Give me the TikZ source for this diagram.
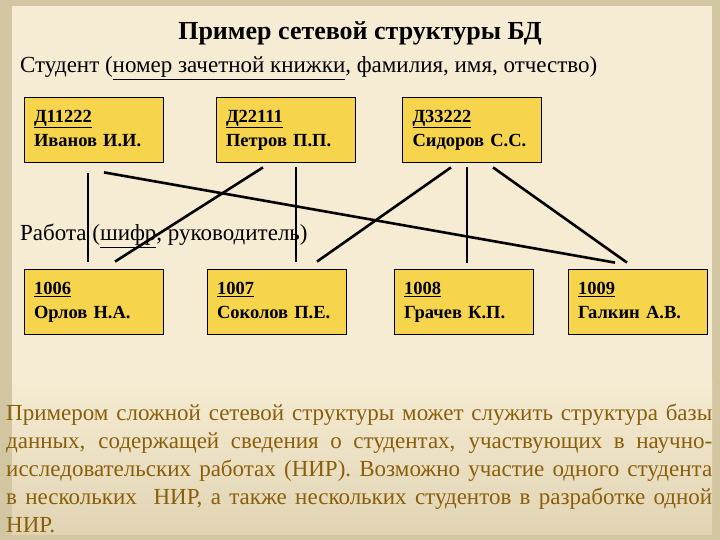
\documentclass[tikz,border=0pt]{standalone}
\usepackage{fontspec}
\setmainfont{Liberation Serif}
\usetikzlibrary{calc}

\definecolor{slidebg}{HTML}{F6ECD3}
\definecolor{slidelow}{HTML}{E0D4B3}
\definecolor{slideedge}{HTML}{D3C6A2}
\definecolor{boxfill}{HTML}{F6D44C}
\definecolor{notetext}{HTML}{8A5E0A}

\begin{document}
\begin{tikzpicture}[
  x=1pt, y=-1pt,
  box/.style={draw, rectangle, line width=0.8pt, fill=boxfill, text width=119pt, inner xsep=10pt,
    minimum height=65pt, align=left, font=\fontsize{18.5}{24.5}\selectfont\bfseries},
  link/.style={line width=2.6pt},
  heading/.style={anchor=west, inner sep=0pt, font=\fontsize{23}{26}\selectfont}
]
  % Background
  \fill[slideedge] (0,0) rectangle (720,540);
  \fill[slidebg] (12,6) rectangle (712,380);
  \shade[top color=slidebg, bottom color=slidelow] (12,380) rectangle (712,534);
  \useasboundingbox (0,0) rectangle (720,540);

  % Headings
  \node[font=\fontsize{26}{30}\selectfont\bfseries, inner sep=0pt] (title) at (360,33) {Пример сетевой структуры БД};
  \node[heading] (student) at (20,68) {Студент (\underline{номер зачетной книжки}, фамилия, имя, отчество)};
  \node[heading] (work) at (20,236) {Работа (\underline{шифр}, руководитель)};

  % Students
  \node[box] (s1) at (93.5,129.5) {\strut\underline{Д11222}\\Иванов И.И.\strut};
  \node[box] (s2) at (285.5,129.5) {\strut\underline{Д22111}\\Петров П.П.\strut};
  \node[box] (s3) at (472,129.5) {\strut\underline{Д33222}\\Сидоров С.С.\strut};

  % Works
  \node[box] (w1) at (93.5,301.5) {\strut\underline{1006}\\Орлов Н.А.\strut};
  \node[box] (w2) at (276.5,301.5) {\strut\underline{1007}\\Соколов П.Е.\strut};
  \node[box] (w3) at (463.5,301.5) {\strut\underline{1008}\\Грачев К.П.\strut};
  \node[box] (w4) at (637.5,301.5) {\strut\underline{1009}\\Галкин А.В.\strut};

  % Links
  \draw[link] ([xshift=-5.5pt,yshift=-11pt]s1.south) -- ([xshift=-5.5pt,yshift=7pt]w1.north);
  \draw[link] ([xshift=10.5pt,yshift=-10pt]s1.south) -- ([xshift=-22.5pt,yshift=6pt]w4.north);
  \draw[link] ([xshift=-22.5pt,yshift=-5pt]s2.south) -- ([xshift=21.5pt,yshift=7pt]w1.north);
  \draw[link] ([xshift=10.5pt,yshift=-5pt]s2.south) -- ([xshift=19.5pt,yshift=7pt]w2.north);
  \draw[link] ([xshift=-21pt,yshift=-5pt]s3.south) -- ([xshift=40.5pt,yshift=7pt]w2.north);
  \draw[link] ([xshift=-5pt,yshift=-5pt]s3.south) -- ([xshift=3.5pt,yshift=6pt]w3.north);
  \draw[link] ([xshift=21pt,yshift=-5pt]s3.south) -- ([xshift=-10.5pt,yshift=6pt]w4.north);

  % Note
  \node[anchor=north west, inner sep=0pt, text width=706pt, align=justify, text=notetext,
    font=\fontsize{23}{28}\selectfont] (note) at (6,404) {Примером сложной сетевой структуры может служить структура базы\linebreak
    данных, содержащей сведения о студентах, участвующих в научно-\linebreak
    исследовательских работах (НИР). Возможно участие одного студента\linebreak
    в нескольких\ \ НИР, а также нескольких студентов в разработке одной\linebreak
    НИР.};
\end{tikzpicture}
\end{document}
